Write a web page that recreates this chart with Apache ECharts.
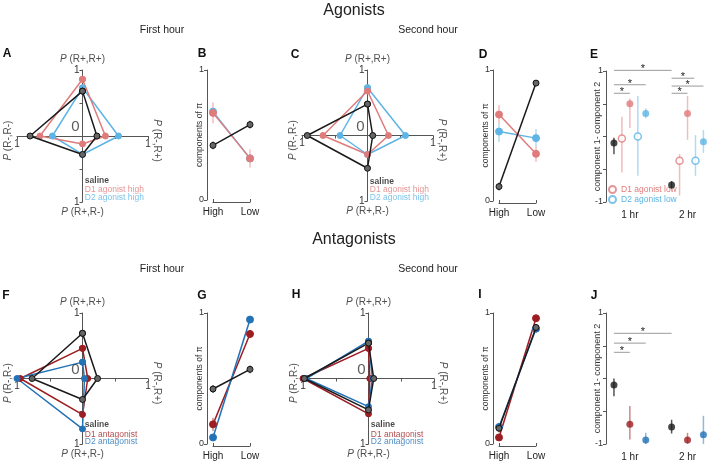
<!DOCTYPE html>
<html>
<head>
<meta charset="utf-8">
</head>
<body style="margin:0; background:#fff">
<div id="container" style="width:708px; height:462px"></div>
<script src="https://cdn.jsdelivr.net/npm/echarts@6/dist/echarts.min.js"></script>
<script>
var dom = document.getElementById('container');
var myChart = echarts.init(dom, null, { renderer: 'canvas' });

var FONT = '"Liberation Sans", Arial, Helvetica, sans-serif';

// radar vertices, order: P(R+,R+) top, P(R-,R+) right, P(R+,R-) bottom, P(R-,R-) left
var agoH1Saline = [0.68, 0.22, 0.28, 0.80];
var agoH1D1 = [0.86, 0.35, 0.12, 0.65];
var agoH1D2 = [0.73, 0.55, 0.28, 0.46];
var agoH2Saline = [0.48, 0.08, 0.50, 0.92];
var agoH2D1 = [0.68, 0.32, 0.29, 0.68];
var agoH2D2 = [0.73, 0.58, 0.29, 0.42];
var antH1Saline = [0.69, 0.23, 0.32, 0.77];
var antH1D1 = [0.46, 0.08, 0.55, 0.95];
var antH1D2 = [0.25, 0.03, 0.77, 1.00];
var antH2Saline = [0.54, 0.08, 0.48, 0.98];
var antH2D1 = [0.46, 0.02, 0.54, 1.00];
var antH2D2 = [0.57, 0.06, 0.43, 0.95];

// components of pi, [High, Low], and error half widths
var piCats = ['High', 'Low'];
var bSaline = [0.42, 0.58], bD1 = [0.67, 0.32], bD2 = [0.68, 0.32];
var bErr = [[0.03, 0.03], [0.08, 0.07], [0.04, 0.05]];
var dSaline = [0.11, 0.90], dD1 = [0.66, 0.36], dD2 = [0.53, 0.48];
var dErr = [[0.03, 0.02], [0.07, 0.06], [0.08, 0.07]];
var gSaline = [0.42, 0.57], gD1 = [0.15, 0.84], gD2 = [0.05, 0.95];
var gErr = [[0.03, 0.03], [0.05, 0.03], [0.02, 0.02]];
var iSaline = [0.12, 0.89], iD1 = [0.05, 0.96], iD2 = [0.13, 0.88];
var iErr = [[0.03, 0.02], [0.02, 0.02], [0.03, 0.03]];

// component 1 - component 2, [1 hr, 2 hr], errors as [low, high]
var hrCats = ['1 hr', '2 hr'];
var eSaline = [-0.10, -0.74], eSalineErr = [[-0.27, -0.02], [-0.80, -0.68]];
var eD1Low = [-0.03, -0.37], eD1LowErr = [[-0.55, 0.30], [-0.90, -0.27]];
var eD1High = [0.50, 0.35], eD1HighErr = [[0.13, 0.58], [-0.05, 0.62]];
var eD2Low = [0.00, -0.37], eD2LowErr = [[-0.60, 0.62], [-0.60, 0.02]];
var eD2High = [0.35, -0.08], eD2HighErr = [[0.28, 0.43], [-0.25, 0.10]];
var jSaline = [-0.10, -0.74], jSalineErr = [[-0.27, 0.00], [-0.84, -0.63]];
var jD1 = [-0.70, -0.94], jD1Err = [[-0.93, -0.42], [-1.00, -0.83]];
var jD2 = [-0.94, -0.86], jD2Err = [[-1.00, -0.83], [-1.00, -0.57]];
// significance bars: [from, to, height]
var eSig = [[0, 2, 0.66], [0, 4, 0.79], [0, 7.25, 1.01], [7.25, 9.25, 0.66], [7.25, 11.25, 0.77], [7.25, 10.1, 0.89]];
var jSig = [[0, 2, 0.40], [0, 4, 0.54], [0, 7.25, 0.69]];

var C_SAL = '#1a1a1a', C_D1A = '#e07b7c', C_D2A = '#5db4e5', C_D1N = '#9c1d22', C_D2N = '#2372b6';
var groupX = [0, 7.25];

var grids = [
    { left: 17, top: 70, width: 131, height: 132 },   // A
    { left: 213, top: 70, width: 37, height: 130 },   // B
    { left: 302, top: 70, width: 131, height: 131 },  // C
    { left: 499, top: 70, width: 37, height: 131 },   // D
    { left: 606, top: 71, width: 101, height: 131 },  // E
    { left: 17, top: 313, width: 131, height: 131 },  // F
    { left: 213, top: 313, width: 37, height: 131 },  // G
    { left: 303, top: 313, width: 131, height: 131 }, // H
    { left: 499, top: 313, width: 37, height: 131 },  // I
    { left: 606, top: 313, width: 101, height: 131 }  // J
].map(function (g) { g.outerBoundsMode = 'none'; g.containLabel = false; return g; });

var axisColor = '#555';
var xAxes = [], yAxes = [], series = [];

function radarAxes(gi) {
    var lab = function (v) { return Math.abs(v) === 1 ? '1' : ''; };
    var g = grids[gi];
    // the two axes cross in the middle of the grid
    xAxes.push({
        gridIndex: gi, type: 'value', min: -1, max: 1, interval: 0.5, offset: -g.height / 2,
        axisLine: { onZero: false, lineStyle: { color: axisColor } },
        axisTick: { length: 3, lineStyle: { color: axisColor } },
        axisLabel: { formatter: lab, fontSize: 10, color: '#333', margin: 3, fontFamily: FONT },
        splitLine: { show: false }
    });
    yAxes.push({
        gridIndex: gi, type: 'value', min: -1, max: 1, interval: 0.5, offset: -g.width / 2,
        axisLine: { onZero: false, lineStyle: { color: axisColor } },
        axisTick: { length: 3, lineStyle: { color: axisColor } },
        axisLabel: { formatter: lab, fontSize: 10, color: '#333', margin: 3, fontFamily: FONT },
        splitLine: { show: false }
    });
}

function piAxes(gi) {
    xAxes.push({
        gridIndex: gi, type: 'value', min: 0, max: 1, interval: 1, offset: 2,
        axisLine: { onZero: false, lineStyle: { color: axisColor } },
        axisTick: { inside: true, length: 3, lineStyle: { color: axisColor } },
        axisLabel: { formatter: function (v) { return piCats[v]; }, fontSize: 10, color: '#222', margin: 5, fontFamily: FONT },
        splitLine: { show: false }
    });
    yAxes.push({
        gridIndex: gi, type: 'value', min: 0, max: 1, interval: 1, offset: 6,
        axisLine: { onZero: false, lineStyle: { color: axisColor } },
        axisTick: { length: 3, lineStyle: { color: axisColor } },
        axisLabel: { fontSize: 9, color: '#333', margin: 3, fontFamily: FONT },
        splitLine: { show: false },
        name: 'components of \u03c0', nameLocation: 'middle', nameRotate: 90, nameGap: 3, nameMoveOverlap: false,
        nameTextStyle: { fontSize: 8.5, color: '#333', fontFamily: FONT }
    });
}

function diffAxes(gi) {
    xAxes.push({
        gridIndex: gi, type: 'value', min: -1, max: 11.7,
        axisLine: { show: false, onZero: false }, axisTick: { show: false }, splitLine: { show: false },
        axisLabel: {
            customValues: [groupX[0] + 2, groupX[1] + 2],
            formatter: function (v) { return hrCats[v < 5 ? 0 : 1]; },
            fontSize: 10, color: '#222', margin: 8, fontFamily: FONT
        }
    });
    yAxes.push({
        gridIndex: gi, type: 'value', min: -1, max: 1, interval: 0.5,
        axisLine: { onZero: false, lineStyle: { color: axisColor } },
        axisTick: { length: 3, lineStyle: { color: axisColor } },
        axisLabel: { formatter: function (v) { return v === 1 ? '1' : (v === -1 ? '-1' : ''); }, fontSize: 9, color: '#333', margin: 3, fontFamily: FONT },
        splitLine: { show: false },
        name: 'component 1- component 2', nameLocation: 'middle', nameRotate: 90, nameGap: 4, nameMoveOverlap: false,
        nameTextStyle: { fontSize: 9, color: '#333', fontFamily: FONT }
    });
}

function radarSeries(gi, name, vals, color, saline) {
    var pts = [[0, vals[0]], [vals[1], 0], [0, -vals[2]], [-vals[3], 0], [0, vals[0]]];
    return {
        type: 'line', name: name, xAxisIndex: gi, yAxisIndex: gi, data: pts, clip: false,
        symbol: 'circle', symbolSize: 6, silent: true, z: saline ? 5 : 4,
        lineStyle: { color: color, width: 1.5 },
        itemStyle: { color: saline ? '#666' : color, borderColor: saline ? '#111' : color, borderWidth: 1 }
    };
}

function radarLabels(gi, names, colors, legendYs) {
    var d = [
        { value: [0, 1.17], label: { formatter: '{i|P} (R+,R+)' } },
        { value: [0, -1.16], label: { formatter: '{i|P} (R+,R-)' } },
        { value: [-1.14, -0.07], label: { formatter: '{i|P} (R-,R-)', rotate: 90 } },
        { value: [1.14, -0.07], label: { formatter: '{i|P} (R-,R+)', rotate: -90 } },
        { value: [0, 0], label: { formatter: '0', fontSize: 15, color: '#333', offset: [-7, -9] } }
    ];
    names.forEach(function (n, k) {
        d.push({
            value: [0.02, legendYs[k]],
            label: { formatter: n, position: 'right', distance: 1, fontSize: 8.5, color: colors[k], fontWeight: k === 0 ? 'bold' : 'normal' }
        });
    });
    return {
        type: 'scatter', xAxisIndex: gi, yAxisIndex: gi, symbolSize: 0, silent: true, clip: false, z: 10,
        label: {
            show: true, position: 'inside', fontSize: 10, color: '#222', fontFamily: FONT,
            rich: { i: { fontStyle: 'italic', fontSize: 10, color: '#222', fontFamily: FONT } }
        },
        data: d
    };
}

function errSeries(gi, data, color, width) {
    return {
        type: 'custom', xAxisIndex: gi, yAxisIndex: gi, data: data, silent: true, clip: false, z: 1,
        encode: { x: 0, y: [1, 2] },
        renderItem: function (p, api) {
            var a = api.coord([api.value(0), api.value(1)]);
            var b = api.coord([api.value(0), api.value(2)]);
            return { type: 'line', shape: { x1: a[0], y1: a[1], x2: b[0], y2: b[1] }, style: { stroke: color, lineWidth: width || 1.5 } };
        }
    };
}

function piSeries(gi, name, vals, err, color, errColor, saline) {
    series.push(errSeries(gi, vals.map(function (v, i) { return [i, v - err[i], v + err[i]]; }), errColor, 2));
    series.push({
        type: 'line', name: name, xAxisIndex: gi, yAxisIndex: gi, clip: false, silent: true, z: saline ? 5 : 4,
        data: vals.map(function (v, i) { return [i, v]; }),
        symbol: 'circle', symbolSize: saline ? 6 : 7,
        lineStyle: { color: color, width: 1.5 },
        itemStyle: { color: saline ? '#666' : color, borderColor: saline ? '#111' : color, borderWidth: 1 }
    });
}

function dotSeries(gi, name, offset, vals, err, color, errColor, open) {
    series.push(errSeries(gi, vals.map(function (v, i) { return [groupX[i] + offset, err[i][0], err[i][1]]; }), errColor, 1.5));
    series.push({
        type: 'scatter', name: name, xAxisIndex: gi, yAxisIndex: gi, clip: false, silent: true, z: 5,
        data: vals.map(function (v, i) { return [groupX[i] + offset, v]; }),
        symbol: 'circle', symbolSize: 7,
        itemStyle: open ? { color: '#fff', borderColor: color, borderWidth: 1.5 } : { color: color, borderColor: color, borderWidth: 0 }
    });
}

function sigSeries(gi, bars) {
    return {
        type: 'custom', xAxisIndex: gi, yAxisIndex: gi, data: bars, silent: true, clip: false, z: 3,
        encode: { x: [0, 1], y: 2 },
        renderItem: function (p, api) {
            var a = api.coord([api.value(0), api.value(2)]);
            var b = api.coord([api.value(1), api.value(2)]);
            return {
                type: 'group', children: [
                    { type: 'line', shape: { x1: a[0], y1: a[1], x2: b[0], y2: b[1] }, style: { stroke: '#9a9a9a', lineWidth: 1 } },
                    { type: 'text', style: { text: '*', x: (a[0] + b[0]) / 2, y: a[1] - 1, align: 'center', verticalAlign: 'middle', fontSize: 11, fill: '#222', fontFamily: FONT } }
                ]
            };
        }
    };
}

// A
radarAxes(0);
series.push(radarSeries(0, 'D2 agonist high', agoH1D2, C_D2A));
series.push(radarSeries(0, 'D1 agonist high', agoH1D1, C_D1A));
series.push(radarSeries(0, 'saline', agoH1Saline, C_SAL, true));
series.push(radarLabels(0, ['saline', 'D1 agonist high', 'D2 agonist high'], [C_SAL, C_D1A, C_D2A], [-0.68, -0.81, -0.94]));
// B
piAxes(1);
piSeries(1, 'D2 agonist high', bD2, bErr[2], C_D2A, '#c4e3f6');
piSeries(1, 'D1 agonist high', bD1, bErr[1], C_D1A, '#f6cccc');
piSeries(1, 'saline', bSaline, bErr[0], C_SAL, '#999', true);
// C
radarAxes(2);
series.push(radarSeries(2, 'D2 agonist high', agoH2D2, C_D2A));
series.push(radarSeries(2, 'D1 agonist high', agoH2D1, C_D1A));
series.push(radarSeries(2, 'saline', agoH2Saline, C_SAL, true));
series.push(radarLabels(2, ['saline', 'D1 agonist high', 'D2 agonist high'], [C_SAL, C_D1A, C_D2A], [-0.71, -0.83, -0.95]));
// D
piAxes(3);
piSeries(3, 'D2 agonist high', dD2, dErr[2], C_D2A, '#c4e3f6');
piSeries(3, 'D1 agonist high', dD1, dErr[1], C_D1A, '#f6cccc');
piSeries(3, 'saline', dSaline, dErr[0], C_SAL, '#999', true);
// E
diffAxes(4);
dotSeries(4, 'saline', 0, eSaline, eSalineErr, C_SAL, '#555', false);
dotSeries(4, 'D1 agonist low', 1, eD1Low, eD1LowErr, C_D1A, '#f2bcbc', true);
dotSeries(4, 'D1 agonist high', 2, eD1High, eD1HighErr, C_D1A, '#f2bcbc', false);
dotSeries(4, 'D2 agonist low', 3, eD2Low, eD2LowErr, C_D2A, '#b3daf2', true);
dotSeries(4, 'D2 agonist high', 4, eD2High, eD2HighErr, C_D2A, '#b3daf2', false);
series.push(sigSeries(4, eSig));
// F
radarAxes(5);
series.push(radarSeries(5, 'saline', antH1Saline, C_SAL, true));
series.push(radarSeries(5, 'D1 antagonist', antH1D1, C_D1N));
series.push(radarSeries(5, 'D2 antagonist', antH1D2, C_D2N));
series.push(radarLabels(5, ['saline', 'D1 antagonist', 'D2 antagonist'], [C_SAL, C_D1N, C_D2N], [-0.71, -0.85, -0.97]));
// G
piAxes(6);
piSeries(6, 'saline', gSaline, gErr[0], C_SAL, '#999', true);
piSeries(6, 'D1 antagonist', gD1, gErr[1], C_D1N, '#d9a5a7');
piSeries(6, 'D2 antagonist', gD2, gErr[2], C_D2N, '#a9c8e6');
// H
radarAxes(7);
series.push(radarSeries(7, 'saline', antH2Saline, C_SAL, true));
series.push(radarSeries(7, 'D1 antagonist', antH2D1, C_D1N));
series.push(radarSeries(7, 'D2 antagonist', antH2D2, C_D2N));
series.push(radarLabels(7, ['saline', 'D1 antagonist', 'D2 antagonist'], [C_SAL, C_D1N, C_D2N], [-0.71, -0.85, -0.97]));
// I
piAxes(8);
piSeries(8, 'saline', iSaline, iErr[0], C_SAL, '#999', true);
piSeries(8, 'D1 antagonist', iD1, iErr[1], C_D1N, '#d9a5a7');
piSeries(8, 'D2 antagonist', iD2, iErr[2], C_D2N, '#a9c8e6');
// J
diffAxes(9);
dotSeries(9, 'saline', 0, jSaline, jSalineErr, C_SAL, '#555', false);
dotSeries(9, 'D1 antagonist', 2, jD1, jD1Err, C_D1N, '#c98a8c', false);
dotSeries(9, 'D2 antagonist', 4, jD2, jD2Err, C_D2N, '#8fb9dd', false);
series.push(sigSeries(9, jSig));

var sectionTitles = ['Agonists', 'Antagonists'];
var hourTitles = ['First hour', 'Second hour'];
var panelLetters = ['A', 'B', 'C', 'D', 'E', 'F', 'G', 'H', 'I', 'J'];
var letterPos = [[7, 54], [202, 54], [295, 55], [483, 55], [594, 55], [6, 296], [202, 296], [296, 295], [480, 295], [594, 296]];

var graphics = [];
[11, 240].forEach(function (y, k) {
    graphics.push({ type: 'text', x: 354, y: y, style: { text: sectionTitles[k], align: 'center', verticalAlign: 'middle', fontSize: 16, fill: '#222', fontFamily: FONT } });
});
[[30, 162], [30, 428], [269, 162], [269, 428]].forEach(function (p, k) {
    graphics.push({ type: 'text', x: p[1], y: p[0], style: { text: hourTitles[k % 2], align: 'center', verticalAlign: 'middle', fontSize: 10.5, fill: '#222', fontFamily: FONT } });
});
panelLetters.forEach(function (t, k) {
    graphics.push({ type: 'text', x: letterPos[k][0], y: letterPos[k][1], style: { text: t, align: 'center', verticalAlign: 'middle', fontSize: 12, fontWeight: 'bold', fill: '#111', fontFamily: FONT } });
});

var option = {
    animation: false,
    backgroundColor: '#fff',
    textStyle: { fontFamily: FONT },
    grid: grids,
    xAxis: xAxes,
    yAxis: yAxes,
    legend: {
        left: 608, top: 185, orient: 'vertical', itemGap: 1, itemWidth: 7, itemHeight: 7, icon: 'circle',
        selectedMode: false, padding: 0,
        data: [
            { name: 'D1 agonist low', textStyle: { color: C_D1A } },
            { name: 'D2 agonist low', textStyle: { color: C_D2A } }
        ],
        textStyle: { fontSize: 8.5, fontFamily: FONT }
    },
    graphic: graphics,
    series: series
};

myChart.setOption(option);
</script>
</body>
</html>
